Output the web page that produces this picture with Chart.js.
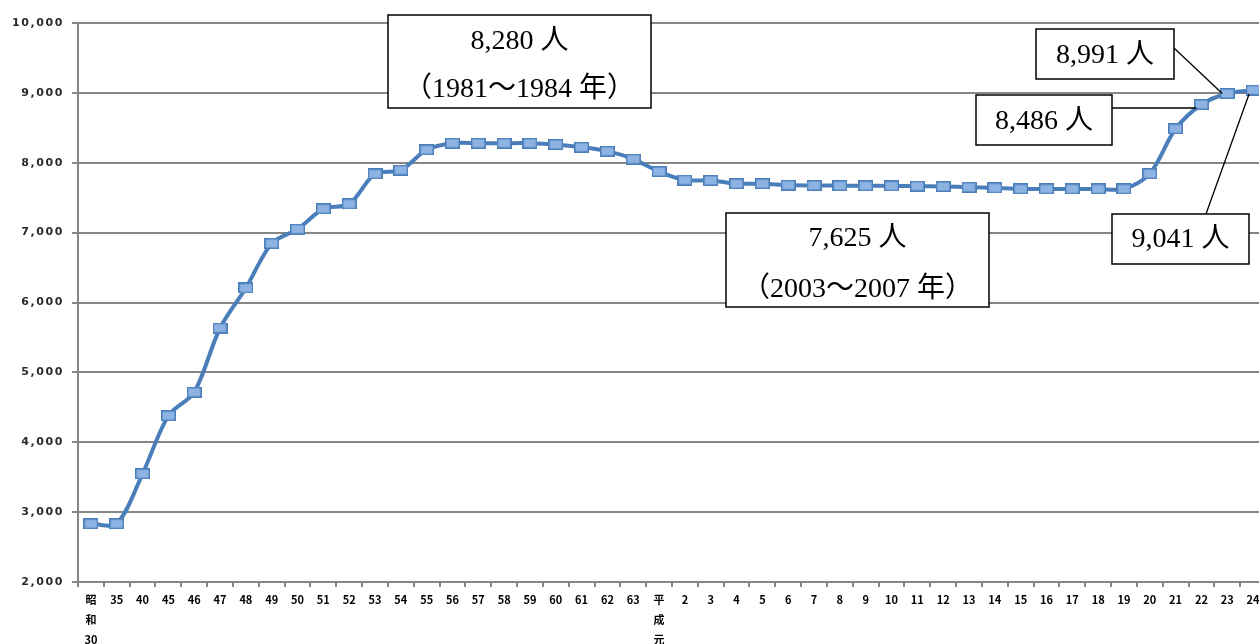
<!DOCTYPE html>
<html lang="ja">
<head>
<meta charset="utf-8">
<title>人数の推移</title>
<script src="https://cdn.jsdelivr.net/npm/chart.js@4/dist/chart.umd.min.js"></script>
<style>
  html, body { margin: 0; padding: 0; overflow: hidden; background: #ffffff; }
  #wrap { width: 1277px; height: 644px; }
  canvas { display: block; }
</style>
</head>
<body>
<div id="wrap"><canvas id="chart" width="1277" height="644"></canvas></div>
<script>
// 年度（昭和30年〜平成24年）
const categories = [
  '昭和30', '35', '40', '45', '46', '47', '48', '49', '50', '51', '52', '53', '54',
  '55', '56', '57', '58', '59', '60', '61', '62', '63',
  '平成元', '2', '3', '4', '5', '6', '7', '8', '9', '10', '11', '12', '13', '14',
  '15', '16', '17', '18', '19', '20', '21', '22', '23', '24'
];

// 人数（人）
const persons = [
  2834, 2834, 3549, 4380, 4717, 5635, 6208, 6845, 7050, 7340, 7410, 7840, 7895,
  8186, 8280, 8280, 8280, 8280, 8262, 8223, 8166, 8052,
  7873, 7752, 7747, 7700, 7700, 7680, 7675, 7672, 7670, 7668, 7665, 7660, 7650, 7640,
  7625, 7625, 7625, 7625, 7625, 7843, 8486, 8834, 8991, 9041
];

// 縦軸の目盛り
const yTicks = [2000, 3000, 4000, 5000, 6000, 7000, 8000, 9000, 10000];

// 吹き出し: 文字と参照する年度
const callouts = [
  { lines: ['8,280 人', '（1981～1984 年）'], box: [388, 15, 263, 93], lineY: [42, 90] },
  { lines: ['7,625 人', '（2003～2007 年）'], box: [726, 213, 263, 94], lineY: [239, 290] },
  { lines: ['8,991 人'], box: [1036, 29, 138, 50], lineY: [56], ref: '23', from: 'right-top' },
  { lines: ['8,486 人'], box: [976, 95, 136, 50], lineY: [122], ref: '22', from: 'right-flat' },
  { lines: ['9,041 人'], box: [1112, 214, 137, 50], lineY: [240], ref: '24', from: 'top' }
];

// 四角いマーカー
function makeMarker() {
  const c = document.createElement('canvas');
  c.width = 15; c.height = 11;
  const g = c.getContext('2d');
  g.fillStyle = '#8db3e2';
  g.fillRect(0, 0, 15, 11);
  g.strokeStyle = '#4a7ebb';
  g.lineWidth = 1.5;
  g.strokeRect(0.75, 0.75, 13.5, 9.5);
  return c;
}
const marker = makeMarker();

// 縦軸の数値ラベル（字間を広めに描く）
const yLabelPlugin = {
  id: 'yLabels',
  afterDraw(chart) {
    const ctx = chart.ctx;
    const ys = chart.scales.y;
    ctx.save();
    ctx.font = 'bold 11px "DejaVu Sans", sans-serif';
    ctx.fillStyle = '#2a2a2a';
    ctx.textAlign = 'right';
    ctx.textBaseline = 'middle';
    if ('letterSpacing' in ctx) ctx.letterSpacing = '1.6px';
    for (const v of yTicks) {
      ctx.fillText(v.toLocaleString('en-US'), 64, ys.getPixelForValue(v));
    }
    ctx.restore();
  }
};

const calloutPlugin = {
  id: 'callouts',
  afterDraw(chart) {
    const ctx = chart.ctx;
    const xs = chart.scales.x, ys = chart.scales.y;
    ctx.save();
    for (const c of callouts) {
      const [bx, by, bw, bh] = c.box;
      if (c.ref) {
        const i = categories.indexOf(c.ref);
        const px = xs.getPixelForValue(i);
        const py = ys.getPixelForValue(persons[i]);
        ctx.beginPath();
        ctx.strokeStyle = '#000000';
        ctx.lineWidth = 1.3;
        if (c.from === 'right-top') {
          ctx.moveTo(bx + bw, by + 19);
          ctx.lineTo(px - 5, py);
        } else if (c.from === 'right-flat') {
          ctx.moveTo(bx + bw, by + 13);
          ctx.lineTo(px - 5, by + 13);
        } else {
          ctx.moveTo(bx + 94, by);
          ctx.lineTo(px - 4, py + 4);
        }
        ctx.stroke();
      }
      ctx.fillStyle = '#ffffff';
      ctx.fillRect(bx, by, bw, bh);
      ctx.strokeStyle = '#000000';
      ctx.lineWidth = 1.5;
      ctx.strokeRect(bx, by, bw, bh);
      ctx.fillStyle = '#000000';
      ctx.font = '28px "Liberation Serif", "Noto Sans CJK JP", serif';
      ctx.textAlign = 'center';
      ctx.textBaseline = 'middle';
      c.lines.forEach((t, k) => ctx.fillText(t, bx + bw / 2, c.lineY[k]));
    }
    ctx.restore();
  }
};

new Chart(document.getElementById('chart'), {
  type: 'line',
  data: {
    labels: categories,
    datasets: [{
      data: persons,
      borderColor: '#4a7ebb',
      borderWidth: 4,
      tension: 0.3,
      pointStyle: marker,
      pointRadius: 7,
      pointHoverRadius: 7,
      fill: false
    }]
  },
  options: {
    responsive: true,
    maintainAspectRatio: false,
    animation: false,
    locale: 'en-US',
    layout: { padding: { top: 23, right: 0, left: 0, bottom: 0 } },
    plugins: {
      legend: { display: false },
      tooltip: { enabled: false }
    },
    scales: {
      x: {
        type: 'category',
        offset: true,
        afterFit(s) { s.height = 62; },
        grid: {
          display: true,
          offset: true,
          drawOnChartArea: false,
          drawTicks: true,
          tickLength: 5,
          color: '#868686',
          lineWidth: 2
        },
        border: { display: true, color: '#868686', width: 2 },
        ticks: {
          autoSkip: false,
          maxRotation: 0,
          minRotation: 0,
          padding: 3,
          color: '#000000',
          font: { family: '"Noto Sans CJK JP", "DejaVu Sans", sans-serif', size: 11, weight: 'bold', lineHeight: 1.8 },
          callback(v) {
            const t = categories[v];
            if (t === '昭和30') return ['昭', '和', '30'];
            if (t === '平成元') return ['平', '成', '元'];
            return t;
          }
        }
      },
      y: {
        min: yTicks[0],
        max: yTicks[yTicks.length - 1],
        afterFit(s) { s.width = 78; },
        afterBuildTicks(s) { s.ticks = yTicks.map(v => ({ value: v })); },
        grid: {
          color: '#868686',
          lineWidth: 2,
          tickLength: 6,
          drawTicks: true
        },
        border: { display: true, color: '#868686', width: 2 },
        ticks: { display: false }
      }
    }
  },
  plugins: [yLabelPlugin, calloutPlugin]
});
</script>
</body>
</html>
